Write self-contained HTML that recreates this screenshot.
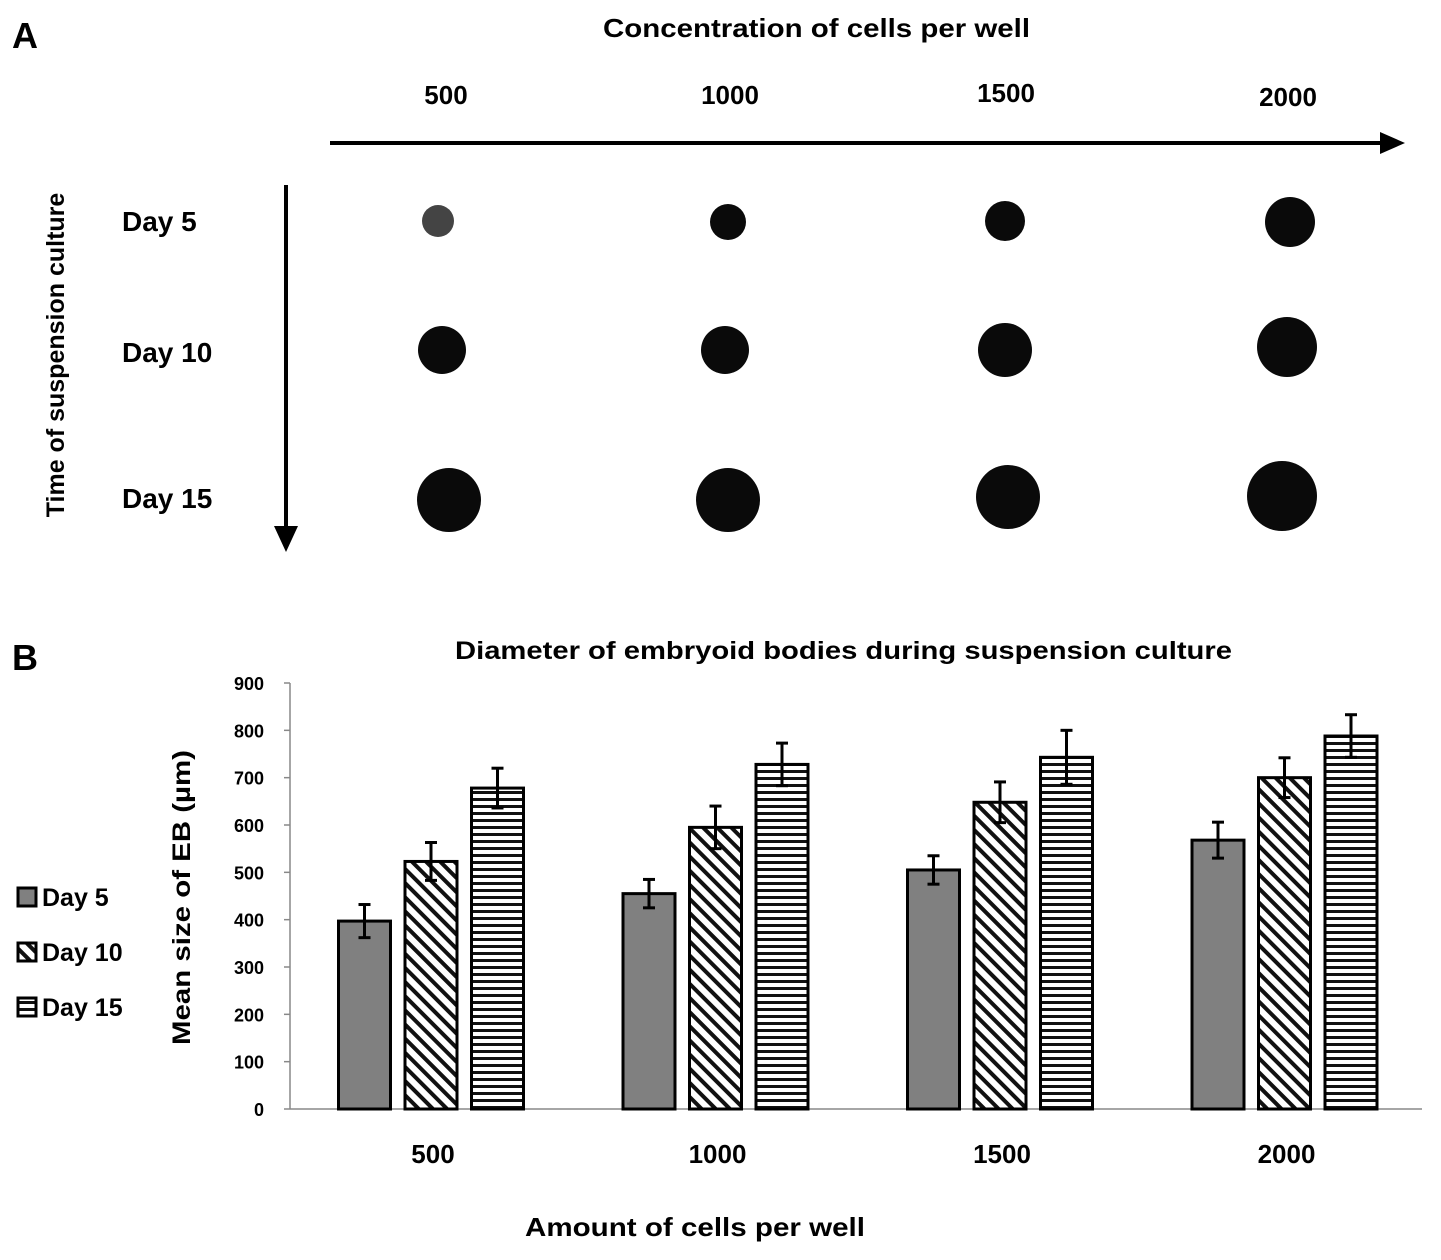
<!DOCTYPE html>
<html><head><meta charset="utf-8"><style>
body{margin:0;background:#fff;}
svg{display:block;font-family:"Liberation Sans",sans-serif;font-weight:bold;}
</style></head><body>
<svg width="1441" height="1260" viewBox="0 0 1441 1260">
<defs>
<pattern id="diag" patternUnits="userSpaceOnUse" width="10" height="10" patternTransform="rotate(-45)">
<rect width="10" height="10" fill="#fff"/><rect width="4" height="10" fill="#111"/></pattern>
<pattern id="horiz" patternUnits="userSpaceOnUse" width="10" height="7">
<rect width="10" height="7" fill="#fff"/><rect width="10" height="3" fill="#111"/></pattern>
</defs>
<text x="12" y="48" font-size="36">A</text>
<text x="603" y="37" font-size="26" textLength="427" lengthAdjust="spacingAndGlyphs">Concentration of cells per well</text>
<g font-size="26" text-anchor="middle">
<text x="446" y="104">500</text><text x="730" y="104">1000</text><text x="1006" y="102">1500</text><text x="1288" y="106">2000</text></g>
<line x1="330" y1="143" x2="1380" y2="143" stroke="#000" stroke-width="4"/>
<path d="M1380,132 L1405,143 L1380,154Z" fill="#000"/>
<line x1="286" y1="185" x2="286" y2="528" stroke="#000" stroke-width="4"/>
<path d="M274,526 L286,552 L298,526Z" fill="#000"/>
<text transform="translate(64,355) rotate(-90)" font-size="25" text-anchor="middle">Time of suspension culture</text>
<g font-size="28">
<text x="122" y="231">Day 5</text><text x="122" y="362">Day 10</text><text x="122" y="508">Day 15</text></g>
<g fill="#0a0a0a">
<circle cx="438" cy="221" r="16" fill="#444"/><circle cx="728" cy="222" r="18"/><circle cx="1005" cy="221" r="20"/><circle cx="1290" cy="222" r="25"/>
<circle cx="442" cy="350" r="24"/><circle cx="725" cy="350" r="24"/><circle cx="1005" cy="350" r="27"/><circle cx="1287" cy="347" r="30"/>
<circle cx="449" cy="500" r="32"/><circle cx="728" cy="500" r="32"/><circle cx="1008" cy="497" r="32"/><circle cx="1282" cy="496" r="35"/>
</g>
<text x="12" y="670" font-size="36">B</text>
<text x="455" y="659" font-size="25" textLength="777" lengthAdjust="spacingAndGlyphs">Diameter of embryoid bodies during suspension culture</text>
<text transform="translate(190,1045) rotate(-90)" font-size="25" textLength="295" lengthAdjust="spacingAndGlyphs">Mean size of EB (µm)</text>
<text x="525" y="1236" font-size="26" textLength="340" lengthAdjust="spacingAndGlyphs">Amount of cells per well</text>
<g id="chart"></g>
<g font-size="25">
<rect x="18" y="888" width="18" height="18" fill="#808080" stroke="#000" stroke-width="3"/><text x="42" y="906">Day 5</text>
<rect x="18" y="943" width="18" height="18" fill="url(#diag)" stroke="#000" stroke-width="3"/><text x="42" y="961">Day 10</text>
<rect x="18" y="998" width="18" height="18" fill="url(#horiz)" stroke="#000" stroke-width="3"/><text x="42" y="1016">Day 15</text>
</g>
</svg>
<script>
const categories=["500","1000","1500","2000"];
const day5=[397,455,505,568];
const day10=[523,595,648,700];
const day15=[678,728,743,788];
const err5=[35,30,30,38];
const err10=[40,45,43,42];
const err15=[42,45,57,45];
const yTicks=[0,100,200,300,400,500,600,700,800,900];
const NS="http://www.w3.org/2000/svg";
const g=document.getElementById('chart');
const y0=1109,yTop=683,xL=290,xR=1422;
const y=v=>y0-(v/900)*(y0-yTop);
const groupX=i=>431+i*284.5;
function el(t,a,p){const e=document.createElementNS(NS,t);for(const k in a)e.setAttribute(k,a[k]);(p||g).appendChild(e);return e;}
yTicks.forEach(t=>{
const tx=el('text',{x:264,y:y(t)+7,'font-size':18,'text-anchor':'end'});tx.textContent=t;


el('line',{x1:xL-6,x2:xL,y1:y(t),y2:y(t),stroke:'#888','stroke-width':1.5});
});
el('line',{x1:xL,x2:xL,y1:yTop,y2:y0,stroke:'#888','stroke-width':1.5});
el('line',{x1:xL,x2:xR,y1:y0,y2:y0,stroke:'#888','stroke-width':1.5});
const series=[[day5,err5,'#808080','bar-day5'],[day10,err10,'url(#diag)','bar-day10'],[day15,err15,'url(#horiz)','bar-day15']];
categories.forEach((c,i)=>{
const lab=el('text',{x:groupX(i)+2,y:1163,'font-size':26,'text-anchor':'middle'});lab.textContent=c;


series.forEach((s,j)=>{
const cx=groupX(i)+(j-1)*66.5,w=52;
const r=el('rect',{x:cx-w/2,y:y(s[0][i]),width:w,height:y0-y(s[0][i]),fill:s[2],stroke:'#000','stroke-width':3});


const hi=y(s[0][i]+s[1][i]),lo=y(s[0][i]-s[1][i]);
el('line',{x1:cx,x2:cx,y1:hi,y2:lo,stroke:'#000','stroke-width':3});
el('line',{x1:cx-6,x2:cx+6,y1:hi,y2:hi,stroke:'#000','stroke-width':3});
el('line',{x1:cx-6,x2:cx+6,y1:lo,y2:lo,stroke:'#000','stroke-width':3});
});
});
</script>
</body></html>
